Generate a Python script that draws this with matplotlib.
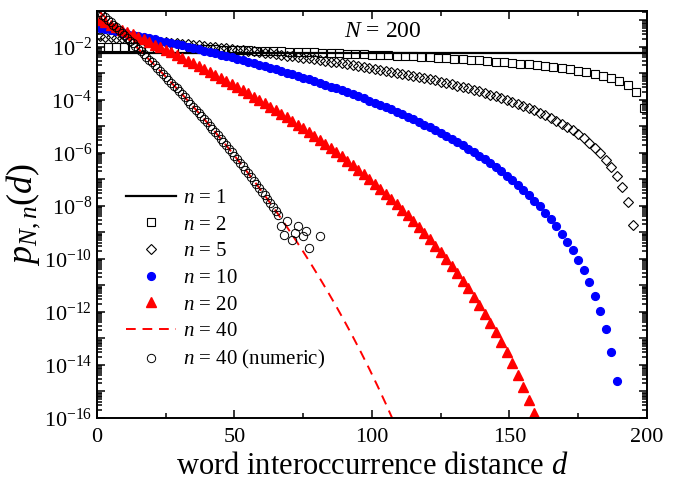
import matplotlib
matplotlib.use('Agg')
import matplotlib.pyplot as plt
import matplotlib.ticker as mticker
import numpy as np

plt.rcParams['font.family'] = 'serif'
plt.rcParams['font.serif'] = ['Liberation Serif', 'DejaVu Serif']
plt.rcParams['mathtext.fontset'] = 'custom'
plt.rcParams['mathtext.rm'] = 'Liberation Serif'
plt.rcParams['mathtext.it'] = 'Liberation Serif:italic'
plt.rcParams['axes.unicode_minus'] = False

# log10 of p_{N,n}(d) (N = 200)
n1_level = 5.9e-3

d_n2 = np.arange(1, 200, 3)
log_n2 = [-2.00, -2.01, -2.01, -2.02, -2.03, -2.03, -2.04, -2.05, -2.06, -2.06,
          -2.07, -2.08, -2.09, -2.10, -2.10, -2.11, -2.12, -2.13, -2.14, -2.15,
          -2.16, -2.17, -2.18, -2.19, -2.20, -2.21, -2.22, -2.23, -2.24, -2.25,
          -2.26, -2.27, -2.29, -2.30, -2.31, -2.33, -2.34, -2.35, -2.37, -2.39,
          -2.40, -2.42, -2.44, -2.45, -2.47, -2.49, -2.51, -2.54, -2.56, -2.58,
          -2.61, -2.64, -2.67, -2.70, -2.73, -2.77, -2.81, -2.85, -2.90, -2.96,
          -3.02, -3.10, -3.19, -3.30, -3.45, -3.70, -4.30]

d_n5 = np.arange(1, 196, 2)
log_n5 = [-1.602, -1.620, -1.638, -1.656, -1.674, -1.692, -1.711, -1.730, -1.749, -1.768,
          -1.788, -1.807, -1.827, -1.847, -1.868, -1.888, -1.909, -1.930, -1.952, -1.973,
          -1.995, -2.017, -2.040, -2.063, -2.086, -2.109, -2.133, -2.157, -2.181, -2.206,
          -2.231, -2.257, -2.282, -2.309, -2.335, -2.362, -2.390, -2.418, -2.446, -2.475,
          -2.504, -2.534, -2.564, -2.595, -2.627, -2.659, -2.691, -2.725, -2.758, -2.793,
          -2.828, -2.864, -2.901, -2.939, -2.977, -3.016, -3.056, -3.098, -3.140, -3.183,
          -3.227, -3.273, -3.319, -3.367, -3.416, -3.467, -3.519, -3.573, -3.629, -3.686,
          -3.746, -3.807, -3.871, -3.937, -4.006, -4.078, -4.152, -4.230, -4.312, -4.398,
          -4.488, -4.583, -4.684, -4.791, -4.905, -5.028, -5.158, -5.302, -5.457, -5.627,
          -5.816, -6.028, -6.269, -6.550, -6.886, -7.304, -7.860, -8.705]

d_n10 = np.arange(1, 190, 2)
log_n10 = [-1.301, -1.341, -1.382, -1.423, -1.464, -1.507, -1.549, -1.592, -1.635, -1.679,
           -1.724, -1.769, -1.814, -1.860, -1.907, -1.954, -2.001, -2.050, -2.098, -2.148,
           -2.198, -2.249, -2.300, -2.352, -2.405, -2.459, -2.513, -2.568, -2.624, -2.681,
           -2.738, -2.796, -2.856, -2.916, -2.977, -3.039, -3.102, -3.166, -3.231, -3.297,
           -3.365, -3.433, -3.503, -3.574, -3.647, -3.720, -3.796, -3.873, -3.951, -4.031,
           -4.113, -4.196, -4.281, -4.368, -4.457, -4.548, -4.641, -4.737, -4.834, -4.935,
           -5.038, -5.143, -5.253, -5.364, -5.479, -5.598, -5.720, -5.847, -5.977, -6.112,
           -6.252, -6.398, -6.548, -6.704, -6.868, -7.038, -7.217, -7.404, -7.600, -7.807,
           -8.025, -8.256, -8.503, -8.765, -9.047, -9.351, -9.680, -10.041, -10.439, -10.883,
           -11.386, -11.965, -12.652, -13.497, -14.611]

d_n20 = np.arange(1, 160, 2)
log_n20 = [-1.000, -1.087, -1.176, -1.265, -1.355, -1.447, -1.539, -1.632, -1.727, -1.822,
           -1.919, -2.016, -2.115, -2.216, -2.317, -2.419, -2.523, -2.629, -2.735, -2.843,
           -2.953, -3.064, -3.176, -3.290, -3.406, -3.523, -3.642, -3.762, -3.885, -4.009,
           -4.135, -4.264, -4.394, -4.526, -4.660, -4.797, -4.936, -5.077, -5.221, -5.368,
           -5.517, -5.669, -5.823, -5.981, -6.141, -6.305, -6.472, -6.643, -6.818, -6.996,
           -7.178, -7.364, -7.554, -7.749, -7.949, -8.154, -8.364, -8.579, -8.800, -9.028,
           -9.261, -9.502, -9.750, -10.006, -10.270, -10.543, -10.825, -11.117, -11.420, -11.735,
           -12.063, -12.404, -12.760, -13.132, -13.522, -13.932, -14.365, -14.821, -15.305, -15.819]

# n = 40: analytic curve (dashed) and the numeric estimate (circles)
d_n40 = np.arange(1, 67)
log_n40 = [-0.699, -0.794, -0.889, -0.985, -1.081, -1.178, -1.275, -1.373, -1.472, -1.571,
           -1.671, -1.771, -1.872, -1.974, -2.076, -2.179, -2.283, -2.387, -2.491, -2.597,
           -2.703, -2.809, -2.917, -3.025, -3.134, -3.243, -3.354, -3.465, -3.576, -3.688,
           -3.802, -3.916, -4.030, -4.146, -4.262, -4.379, -4.497, -4.616, -4.736, -4.856,
           -4.977, -5.100, -5.223, -5.347, -5.472, -5.598, -5.725, -5.852, -5.981, -6.111,
           -6.242, -6.373, -6.506, -6.640, -6.775, -6.911, -7.048, -7.186, -7.326, -7.466,
           -7.608, -7.751, -7.896, -8.041, -8.188, -8.336]
d_n40_tail = [69, 72, 75, 78, 81, 84, 87, 90, 93, 96, 99, 102, 105, 108, 111]
log_n40_tail = [-8.788, -9.253, -9.731, -10.223, -10.730, -11.253, -11.792, -12.350,
                -12.927, -13.525, -14.145, -14.789, -15.459, -16.158, -16.890]

d_num_tail = [67, 68, 69, 71, 72, 73, 75, 76, 77, 81]
log_num_tail = [-8.76, -9.09, -8.57, -9.29, -9.01, -8.75, -9.13, -8.95, -9.60, -9.13]

fig = plt.figure(figsize=(6.84, 4.83), dpi=100)
ax = fig.add_axes([0.1418, 0.1346, 0.8041, 0.8432])

ax.plot([0, 200], [n1_level, n1_level], color='black', lw=1.6, label='$n$ = 1')
ax.plot(d_n2, 10 ** np.array(log_n2), 's', ms=5.2, mfc='none', mec='black', mew=0.8, label='$n$ = 2')
ax.plot(d_n5, 10 ** np.array(log_n5), 'D', ms=5.2, mfc='none', mec='black', mew=0.8, label='$n$ = 5')
ax.plot(d_n10, 10 ** np.array(log_n10), 'o', ms=5.6, color='#0000ff', mec='#0000ff', label='$n$ = 10')
ax.plot(d_n20, 10 ** np.array(log_n20), '^', ms=7.5, color='#ff0000', mec='#ff0000', label='$n$ = 20')

d_line = list(d_n40) + d_n40_tail
log_line = log_n40 + log_n40_tail
ax.plot(d_line, 10 ** np.array(log_line), '--', color='#ff0000', lw=1.4, dashes=(5, 3.5), label='$n$ = 40')
ax.plot(list(d_n40) + d_num_tail, 10 ** np.array(log_n40 + log_num_tail), 'o', ms=6,
        mfc='none', mec='black', mew=0.7, label='$n$ = 40 (numeric)')

ax.set_xlim(0, 200)
ax.set_ylim(1e-16, 10 ** -0.645)
ax.set_yscale('log')

ax.set_xticks([0, 50, 100, 150, 200])
ax.xaxis.set_minor_locator(mticker.MultipleLocator(25))
decades = list(range(-16, 0))
ax.set_yticks([10.0 ** k for k in decades])
ax.set_yticklabels(['$10^{%d}$' % k if k % 2 == 0 else '' for k in decades])
ax.yaxis.set_minor_locator(mticker.LogLocator(base=10, subs=np.arange(2, 10) * 1.0, numticks=100))
ax.yaxis.set_minor_formatter(mticker.NullFormatter())

ax.tick_params(which='both', direction='in', top=True, right=True, width=1.1, labelsize=16)
ax.tick_params(which='major', length=6)
ax.tick_params(which='minor', length=3.5)
ax.tick_params(axis='x', pad=7)
for s in ax.spines.values():
    s.set_linewidth(1.4)

ax.set_xlabel('word interoccurrence distance $d$', fontsize=22, labelpad=4)
ax.set_ylabel('$p_{N,n}(d)$', fontsize=26)
ax.yaxis.set_label_coords(-0.1, 0.5)

ax.text(0.52, 0.95, '$N$ = 200', transform=ax.transAxes, fontsize=17, ha='center', va='center')

ax.legend(loc='center left', bbox_to_anchor=(0.052, 0.339), frameon=False, fontsize=15,
          borderpad=0, borderaxespad=0, handlelength=2.4, handletextpad=0.35, labelspacing=0.34)

plt.savefig('out.png', dpi=100)
